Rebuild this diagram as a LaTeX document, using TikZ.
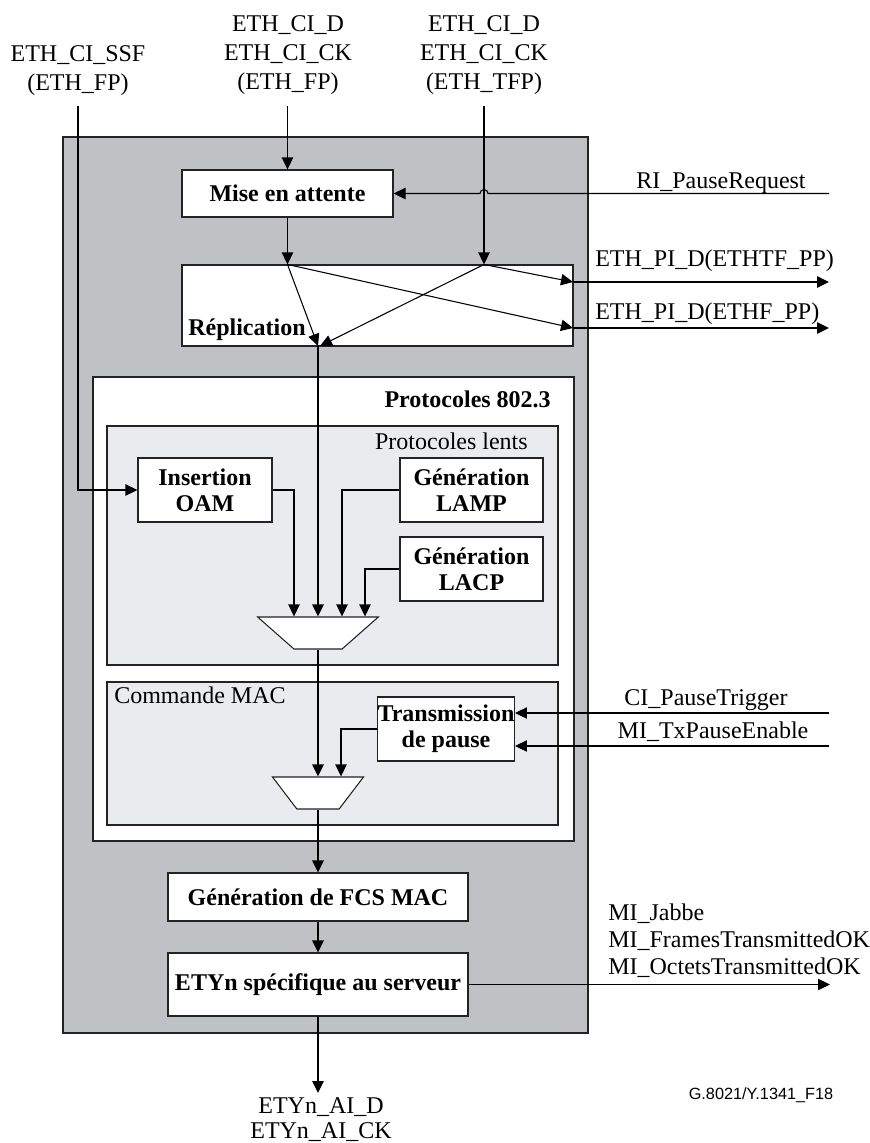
\documentclass[tikz,border=0pt]{standalone}
\usepackage{fontspec}
\setmainfont{Liberation Serif}
\newfontfamily\figsans{Liberation Sans}
\usetikzlibrary{arrows.meta,shapes.geometric,calc}

\definecolor{outergray}{RGB}{192,193,197}
\definecolor{innergray}{RGB}{234,235,238}
\definecolor{edge}{RGB}{35,35,35}

\begin{document}
\begin{tikzpicture}[x=0.75pt,y=-0.75pt,
  tip/.style={-{Triangle[length=9pt,width=8.5pt]}},
  sig/.style={draw=black,line width=0.8pt,tip},
  flow/.style={draw=black,line width=1.2pt,tip},
  frame/.style={draw=edge,line width=0.8pt,inner sep=0pt},
  blk/.style={frame,fill=white,align=center,
    font=\bfseries\fontsize{18}{19.5}\selectfont},
  lbl/.style={inner sep=0pt,font=\fontsize{18}{22}\selectfont},
  mux/.style={draw=edge,line width=0.8pt,inner sep=1pt,fill=white,
    shape=trapezium,shape border rotate=180,trapezium stretches=true}
]
\fill[white] (0,0) rectangle (870,1143);
\useasboundingbox (0,0) rectangle (870,1143);

% enclosing function block
\node[frame,fill=outergray,minimum width=393.75pt,minimum height=672pt] (unit) at (325.5,585) {};

% pause queue and replication
\node[blk,minimum width=158.25pt,minimum height=35.25pt] (mise) at (287.5,193.5) {Mise en attente};
\node[frame,fill=white,minimum width=293.25pt,minimum height=60.75pt] (rep) at (377.5,305.5) {};
\node[inner sep=0pt,anchor=base west,font=\bfseries\fontsize{18}{20}\selectfont] (replbl) at (188,335) {Réplication};

% 802.3 protocols
\node[frame,fill=white,minimum width=360.75pt,minimum height=348pt] (p8023) at (333.5,609) {};
\node[inner sep=0pt,anchor=base east,font=\bfseries\fontsize{18}{20}\selectfont] (p8023lbl) at (551,407) {Protocoles 802.3};

\node[frame,fill=innergray,minimum width=338.25pt,minimum height=179.25pt] (slow) at (332.5,545.5) {};
\node[lbl,anchor=base east] (slowlbl) at (528,449) {Protocoles lents};
\node[blk,minimum width=100.5pt,minimum height=48pt] (oam) at (205,490) {Insertion\\OAM};
\node[blk,minimum width=107.25pt,minimum height=48pt] (lamp) at (471.5,490) {Génération\\LAMP};
\node[blk,minimum width=107.25pt,minimum height=48pt] (lacp) at (471.5,569) {Génération\\LACP};
\node[mux,minimum width=90.5pt,minimum height=24pt,trapezium angle=53] (mux1) at (318,633) {};

\node[frame,fill=innergray,minimum width=338.25pt,minimum height=107.25pt] (mac) at (332.5,753.5) {};
\node[lbl,anchor=base west] (maclbl) at (114,703) {Commande MAC};
\node[blk,minimum width=102pt,minimum height=48pt] (pause) at (446,729) {Transmission\\de pause};
\node[mux,minimum width=68.25pt,minimum height=24pt,trapezium angle=60] (mux2) at (318,793) {};

% FCS and server specific blocks
\node[blk,minimum width=225pt,minimum height=36pt] (fcs) at (318,897) {Génération de FCS MAC};
\node[blk,minimum width=225pt,minimum height=47.25pt] (ety) at (318,984.5) {ETYn spécifique au serveur};

% inputs at the top
\node[lbl,align=center,anchor=north] (inSlbl) at (78,45) {ETH\_CI\_SSF\\(ETH\_FP)};
\node[lbl,align=center,anchor=north] (inDlbl) at (288,15) {ETH\_CI\_D\\ETH\_CI\_CK\\(ETH\_FP)};
\node[lbl,align=center,anchor=north] (inTlbl) at (484,15) {ETH\_CI\_D\\ETH\_CI\_CK\\(ETH\_TFP)};
\coordinate (inS) at (78,106);
\coordinate (inD) at (287.5,106);
\coordinate (inT) at (484,106);

% pause request with a hop over the TFP line
\coordinate (riin) at (829,193.5);
\node[lbl,anchor=base] (rilbl) at (721,188) {RI\_PauseRequest};
\draw[sig] (riin) -- (488,193.5) arc[start angle=0,end angle=180,radius=3pt] -- (mise.east);

\draw[sig] (inD) -- (mise.north);
\draw[sig] (inT) -- (inT |- rep.north);
\draw[sig] (mise.south) -- (mise.south |- rep.north);

% replication fan-out
\coordinate (ra) at (mise.south |- rep.north);
\coordinate (rb) at (inT |- rep.north);
\coordinate (rc) at (318,346);
\coordinate (rc2) at (320,346);
\coordinate (ro1) at (573,282);
\coordinate (ro2) at (573,328);
\draw[sig] (ra) -- (rc);
\draw[sig] (ra) -- (ro2);
\draw[sig] (rb) -- (rc2);
\draw[sig] (rb) -- (ro1);

\coordinate (out1) at (829,282);
\coordinate (out2) at (829,328);
\draw[flow] (ro1) -- (out1);
\draw[flow] (ro2) -- (out2);
\node[lbl,anchor=base west] (out1lbl) at (595,266) {ETH\_PI\_D(ETHTF\_PP)};
\node[lbl,anchor=base west] (out2lbl) at (595,319) {ETH\_PI\_D(ETHF\_PP)};

% main path through the protocol blocks
\draw[flow] (rc) -- (rc |- mux1.north);
\draw[sig] (inS) |- (oam.west);
\draw[sig] (oam.east) -| ($(mux1.north)+(-24,0)$);
\draw[sig] (lamp.west) -| ($(mux1.north)+(24,0)$);
\draw[sig] (lacp.west) -| ($(mux1.north)+(47,0)$);

\draw[flow] (mux1.south) -- (mux2.north);
\draw[sig] (pause.west) -| ($(mux2.north)+(23,0)$);

\coordinate (ciin) at (829,713);
\coordinate (mtin) at (829,746);
\draw[sig] (ciin) -- (pause.east |- ciin);
\draw[sig] (mtin) -- (pause.east |- mtin);
\node[lbl,anchor=base] (cilbl) at (706,705) {CI\_PauseTrigger};
\node[lbl,anchor=base] (mtlbl) at (713,738) {MI\_TxPauseEnable};

\draw[flow] (mux2.south) -- (fcs.north);
\draw[flow] (fcs.south) -- (ety.north);

% outputs at the bottom and right
\coordinate (miout) at (830,984.5);
\draw[sig] (ety.east) -- (miout);
\node[inner sep=0pt,align=left,anchor=north west,font=\fontsize{18}{20}\selectfont] (milbl) at (608,904)
  {MI\_Jabbe\\MI\_FramesTransmittedOK\\MI\_OctetsTransmittedOK};

\coordinate (aiout) at (318,1093);
\draw[flow] (ety.south) -- (aiout);
\node[inner sep=0pt,align=center,anchor=north,font=\fontsize{18}{19}\selectfont] (ailbl) at (321,1097)
  {ETYn\_AI\_D\\ETYn\_AI\_CK};

\node[inner sep=0pt,font=\figsans\fontsize{12.2}{14}\selectfont] (figid) at (761,1095) {G.8021/Y.1341\_F18};
\end{tikzpicture}
\end{document}
